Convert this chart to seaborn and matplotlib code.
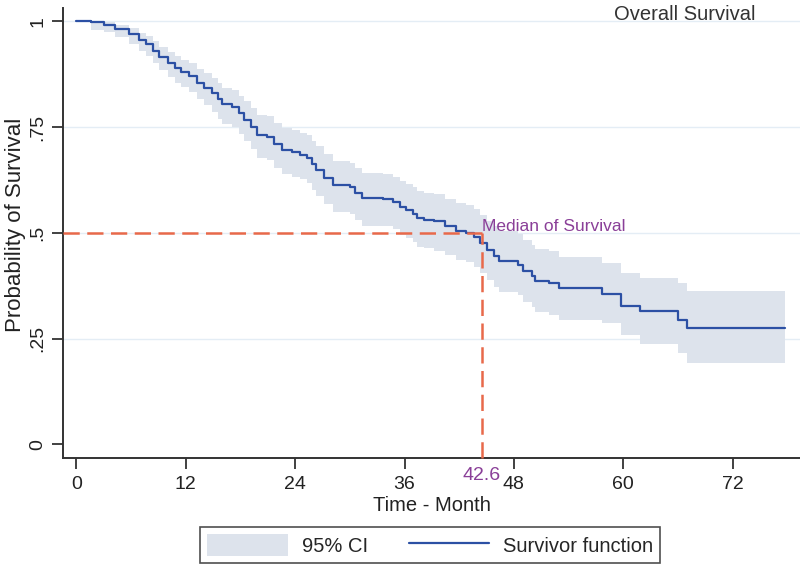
import matplotlib
matplotlib.use("Agg")
import matplotlib.pyplot as plt
import seaborn as sns
from matplotlib.patches import Patch
from matplotlib.lines import Line2D

# Kaplan-Meier estimate (months, survival, 95% CI)
times = [0.0, 1.6, 3.0, 4.2, 5.8, 6.9, 7.6, 8.4, 9.1, 10.0, 10.8, 11.5, 12.4,
         13.2, 14.0, 14.9, 15.5, 16.0, 17.1, 17.8, 18.4, 19.2, 19.8, 20.9,
         21.7, 22.5, 23.7, 24.5, 25.3, 25.8, 26.3, 27.2, 28.1, 30.0, 30.6,
         31.3, 33.6, 34.7, 35.5, 36.2, 36.9, 37.4, 38.1, 39.2, 40.4, 41.6,
         42.8, 43.6, 44.3, 45.0, 45.8, 46.4, 48.5, 49.0, 50.0, 50.3, 51.8,
         53.0, 57.7, 59.8, 61.8, 66.0, 67.0, 77.8]
surv = [1.000, 0.997, 0.992, 0.982, 0.970, 0.955, 0.945, 0.930, 0.915, 0.900,
        0.890, 0.880, 0.870, 0.855, 0.843, 0.830, 0.815, 0.804, 0.797, 0.782,
        0.767, 0.750, 0.731, 0.726, 0.710, 0.696, 0.691, 0.684, 0.677, 0.662,
        0.649, 0.630, 0.613, 0.608, 0.595, 0.582, 0.580, 0.573, 0.562, 0.554,
        0.545, 0.535, 0.531, 0.527, 0.516, 0.505, 0.500, 0.490, 0.475, 0.460,
        0.445, 0.434, 0.425, 0.410, 0.398, 0.387, 0.382, 0.370, 0.356, 0.328,
        0.316, 0.295, 0.274, 0.274]
ci_low = [1.000, 0.980, 0.975, 0.962, 0.947, 0.930, 0.918, 0.901, 0.884, 0.867,
          0.855, 0.844, 0.832, 0.815, 0.801, 0.786, 0.769, 0.757, 0.749, 0.733,
          0.716, 0.697, 0.677, 0.671, 0.654, 0.639, 0.633, 0.626, 0.618, 0.602,
          0.588, 0.568, 0.550, 0.545, 0.531, 0.517, 0.515, 0.508, 0.496, 0.487,
          0.478, 0.467, 0.463, 0.458, 0.447, 0.435, 0.430, 0.419, 0.404, 0.388,
          0.373, 0.361, 0.352, 0.336, 0.324, 0.313, 0.307, 0.295, 0.288, 0.259,
          0.238, 0.217, 0.193, 0.193]
ci_high = [1.000, 1.000, 0.998, 0.992, 0.984, 0.972, 0.964, 0.952, 0.939, 0.926,
           0.918, 0.909, 0.900, 0.888, 0.877, 0.866, 0.853, 0.843, 0.837, 0.824,
           0.811, 0.796, 0.779, 0.775, 0.760, 0.747, 0.742, 0.736, 0.730, 0.716,
           0.704, 0.686, 0.670, 0.665, 0.653, 0.641, 0.639, 0.633, 0.623, 0.616,
           0.608, 0.598, 0.595, 0.591, 0.581, 0.571, 0.566, 0.557, 0.543, 0.529,
           0.515, 0.505, 0.497, 0.483, 0.471, 0.461, 0.456, 0.444, 0.429, 0.406,
           0.394, 0.382, 0.363, 0.363]

# median marker as drawn in the picture
median_pos = 44.45
median_prob = 0.5
median_label = "42.6"

x_ticks = [0, 12, 24, 36, 48, 60, 72]
y_ticks = [0, 0.25, 0.5, 0.75, 1]
y_tick_labels = ["0", ".25", ".5", ".75", "1"]

line_col = "#2c50a4"
band_col = "#dde3ec"
dash_col = "#e8694a"
purple = "#8a3f98"

sns.set_theme(style="white")
plt.rcParams["font.family"] = ["Liberation Sans", "DejaVu Sans"]

fig = plt.figure(figsize=(8, 5.66), dpi=100)
ax = fig.add_axes([0.07875, 0.1908, 0.92125, 0.795])

for yv in y_ticks[1:]:
    ax.axhline(yv, color="#e4edf5", lw=1.0, zorder=0)

ax.fill_between(times, ci_low, ci_high, step="post", color=band_col, lw=0, zorder=1)
sns.lineplot(x=times, y=surv, drawstyle="steps-post", color=line_col, lw=1.6,
             estimator=None, ax=ax, zorder=3)

# median dashed guides
ax.plot([-1.48, median_pos], [median_prob, median_prob], color=dash_col, lw=1.8,
        dashes=(6.5, 3), zorder=4)
ax.plot([median_pos, median_pos], [-0.032, median_prob], color=dash_col, lw=1.8,
        dashes=(6.5, 3), zorder=4, clip_on=False)
ax.text(median_pos, median_prob + 0.016, "Median of Survival", color=purple,
        fontsize=12.5, ha="left", va="center", zorder=5)
ax.text(median_pos, -0.038, median_label, color=purple, fontsize=14,
        ha="center", va="center", transform=ax.get_xaxis_transform())

ax.set_xlim(-1.48, 79.4)
ax.set_ylim(-0.032, 1.031)
ax.set_xticks(x_ticks)
ax.set_xticklabels([str(v) for v in x_ticks], fontsize=14, color="#222222")
ax.set_yticks(y_ticks)
ax.set_yticklabels(y_tick_labels, fontsize=14, color="#222222", rotation=90, va="center")
ax.tick_params(axis="both", direction="out", length=8, width=1.3, color="#333333",
               bottom=True, left=True)
ax.tick_params(axis="x", pad=5)
ax.tick_params(axis="y", pad=4)
ax.set_xlabel("Time - Month", fontsize=14.5, color="#222222", labelpad=2)
ax.set_ylabel("")

for side in ["top", "right"]:
    ax.spines[side].set_visible(False)
for side in ["left", "bottom"]:
    ax.spines[side].set_color("#333333")
    ax.spines[side].set_linewidth(1.4)

fig.text(0.0188, 0.602, "Probability of Survival", rotation=90, fontsize=16,
         color="#222222", ha="center", va="center")
fig.text(0.856, 0.975, "Overall Survival", fontsize=14.5, color="#333333",
         ha="center", va="center")

handles = [Patch(facecolor=band_col, edgecolor="none"),
           Line2D([0], [0], color=line_col, lw=1.6)]
leg = fig.legend(handles, ["95% CI", "Survivor function"], ncol=2,
                 loc="center", bbox_to_anchor=(0.538, 0.037), fontsize=14.5,
                 frameon=True, fancybox=False, edgecolor="#222222",
                 handlelength=4.0, handleheight=1.3, columnspacing=2.0,
                 borderpad=0.35, handletextpad=0.7)
leg.get_frame().set_linewidth(1.2)

fig.savefig("out.png", dpi=100, facecolor="white")
